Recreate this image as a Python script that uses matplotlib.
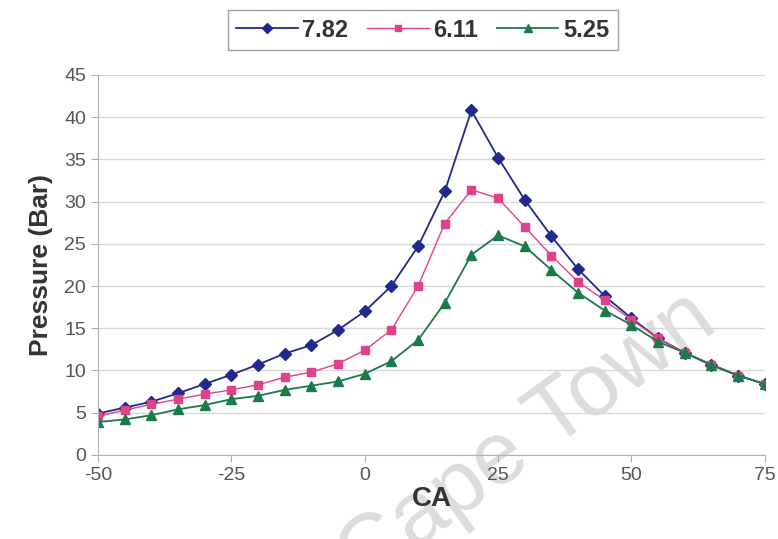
import matplotlib.pyplot as plt
import numpy as np

# data
ca = list(range(-50, 80, 5))
p_782 = [4.9, 5.6, 6.3, 7.3, 8.4, 9.5, 10.7, 12.0, 13.0, 14.8, 17.0, 20.0, 24.7,
         31.2, 40.8, 35.2, 30.2, 25.9, 22.0, 18.8, 16.2, 13.8, 12.1, 10.7, 9.4, 8.4]
p_611 = [4.6, 5.3, 6.0, 6.6, 7.2, 7.7, 8.3, 9.2, 9.8, 10.8, 12.4, 14.8, 20.0,
         27.4, 31.4, 30.4, 27.0, 23.6, 20.5, 18.3, 16.0, 13.8, 12.1, 10.7, 9.4, 8.4]
p_525 = [3.9, 4.2, 4.7, 5.4, 5.9, 6.6, 7.0, 7.7, 8.2, 8.7, 9.6, 11.1, 13.6,
         18.0, 23.7, 26.0, 24.7, 21.9, 19.2, 17.1, 15.4, 13.4, 12.1, 10.6, 9.4, 8.4]
labels = ['7.82', '6.11', '5.25']

plt.rcParams['font.family'] = ['Liberation Sans', 'DejaVu Sans']
plt.rcParams['axes.unicode_minus'] = False

fig = plt.figure(figsize=(7.78, 5.39), dpi=100)
ax = fig.add_axes([0.126, 0.156, 0.857, 0.705])

ax.plot(ca, p_782, color='#1f2a8c', marker='D', markersize=6, lw=1.3, label=labels[0])
ax.plot(ca, p_611, color='#e0428a', marker='s', markersize=6, lw=1.0, label=labels[1])
ax.plot(ca, p_525, color='#1a7a4a', marker='^', markersize=7, lw=1.3, label=labels[2])

ax.set_xlim(-50, 75)
ax.set_ylim(0, 45)
ax.set_xticks([-50, -25, 0, 25, 50, 75])
ax.set_yticks(np.arange(0, 50, 5))
ax.yaxis.grid(True, color='#d8d8d8', lw=1)
ax.set_axisbelow(True)
for s in ['top', 'right']:
    ax.spines[s].set_visible(False)
for s in ['left', 'bottom']:
    ax.spines[s].set_color('#b0b0b0')
ax.tick_params(colors='#b0b0b0', labelcolor='#555555', labelsize=14, length=5)

ax.set_xlabel('CA', fontsize=20, fontweight='bold', color='#333333', labelpad=2)
ax.set_ylabel('Pressure (Bar)', fontsize=19, fontweight='bold', color='#333333', labelpad=8)

leg = ax.legend(loc='lower center', bbox_to_anchor=(0.487, 1.035), ncol=3, frameon=True,
                fancybox=False, edgecolor='#888888', fontsize=17, handlelength=2.6,
                columnspacing=0.8, handletextpad=0.2, borderpad=0.35, markerscale=0.8)
for t in leg.get_texts():
    t.set_fontweight('bold')
    t.set_color('#333333')

# faint watermark
ax.text(0.925, 0.39, 'Cape Town', transform=fig.transFigure, fontsize=64,
        color='#dddddd', rotation=36, rotation_mode='anchor', ha='right',
        va='baseline', zorder=0.5, clip_on=False)

fig.savefig('out.png', dpi=100)
